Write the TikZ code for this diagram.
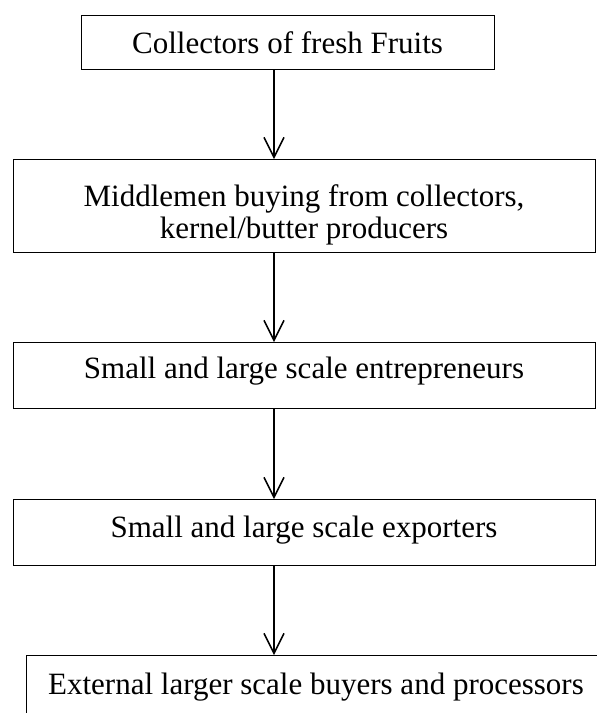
\documentclass[tikz,border=0pt]{standalone}
\usepackage{fontspec}
\setmainfont{Liberation Serif}
\usetikzlibrary{arrows.meta}
\begin{document}
\begin{tikzpicture}[x=1pt,y=-1pt,
  box/.style={draw, line width=1pt, rectangle, inner sep=0pt, outer sep=0pt},
  lbl/.style={anchor=base, inner sep=0pt, font=\fontsize{31}{32}\selectfont},
  flow/.style={line width=1.6pt, -{Straight Barb[length=20pt,width=20pt,line width=1.5pt]}}]
\useasboundingbox (0,0) rectangle (597,713);
\clip (0,0) rectangle (597,713);

% boxes of the chain
\node[box, minimum width=413pt, minimum height=54pt] (b1) at (287.5,42) {};
\node[box, minimum width=582pt, minimum height=93pt] (b2) at (304,205.5) {};
\node[box, minimum width=582pt, minimum height=66pt] (b3) at (304,375) {};
\node[box, minimum width=582pt, minimum height=66pt] (b4) at (304,532) {};
\node[box, minimum width=620pt, minimum height=100pt, anchor=north west] (b5) at (26,655) {};

% texts (base of a two-line node is its last line)
\node[lbl] (t1) at (287.5,53) {Collectors of fresh Fruits};
\node[lbl, align=center] (t2) at (304,238) {Middlemen buying from collectors,\\kernel/butter producers};
\node[lbl] (t3) at (304,378) {Small and large scale entrepreneurs};
\node[lbl] (t4) at (304,537) {Small and large scale exporters};
\node[lbl] (t5) at (316,694) {External larger scale buyers and processors};

% connectors
\coordinate (spine) at (274,0);
\draw[flow] (b1.south -| spine) -- (b2.north -| spine);
\draw[flow] (b2.south -| spine) -- (b3.north -| spine);
\draw[flow] (b3.south -| spine) -- (b4.north -| spine);
\draw[flow] (b4.south -| spine) -- (b5.north -| spine);
\end{tikzpicture}
\end{document}
